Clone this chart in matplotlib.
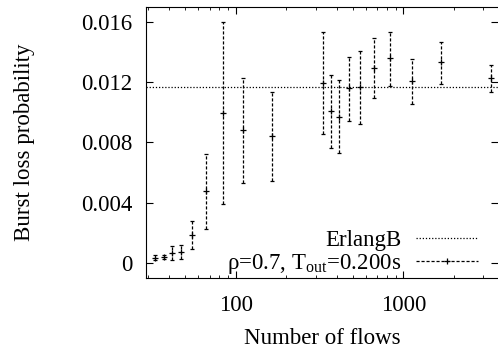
import matplotlib
matplotlib.use("Agg")
import numpy as np
import matplotlib.pyplot as plt
from matplotlib.lines import Line2D

config = {
    "font.family": ['Liberation Serif', 'DejaVu Serif'],
    "font.size": 16.5,
    "mathtext.fontset": 'custom',
    "mathtext.rm": 'Liberation Serif',
    "axes.unicode_minus": False,
}
plt.rcParams.update(config)

flows = [33, 37.3, 41.5, 47.2, 55.1, 66.3, 83.6, 111, 166, 330, 369, 415,
         476, 552, 669, 834, 1121, 1675, 3337]
loss = [0.00035, 0.0004, 0.00068, 0.00073, 0.00186, 0.00475, 0.00999, 0.00884,
        0.00842, 0.01194, 0.01006, 0.00972, 0.01161, 0.0117, 0.01295, 0.01362,
        0.01207, 0.01333, 0.01227]
loss_lo = [0.0002, 0.00025, 0.00017, 0.00025, 0.00095, 0.00228, 0.00393, 0.00533,
           0.00546, 0.00853, 0.00765, 0.0073, 0.00944, 0.00922, 0.01098, 0.01176,
           0.01055, 0.01187, 0.01134]
loss_hi = [0.0005, 0.00055, 0.00113, 0.0012, 0.00276, 0.00723, 0.01603, 0.01227,
           0.01134, 0.01536, 0.01245, 0.01216, 0.0137, 0.0141, 0.01493, 0.01536,
           0.01355, 0.0147, 0.01317]
erlang_b = 0.0117

flows = np.array(flows)
loss = np.array(loss)
yerr = [loss - np.array(loss_lo), np.array(loss_hi) - loss]

fig = plt.figure(figsize=(4.98, 3.5), dpi=100)
ax = fig.add_axes([0.293, 0.206, 0.707, 0.774])

ax.axhline(erlang_b, color='black', ls=(0, (1, 1.5)), lw=0.9)
eb = ax.errorbar(flows, loss, yerr=yerr, fmt='none', ecolor='black',
                 elinewidth=0.9, capsize=1.5, capthick=0.9)
eb[2][0].set_linestyle((0, (2.5, 1.5)))
ax.plot(flows, loss, ls='none', marker='+', color='black', ms=5, mew=0.9)

ax.set_xscale('log')
ax.set_xlim(29.2, 3670)
ax.set_ylim(-0.001, 0.017)
ax.set_yticks([0, 0.004, 0.008, 0.012, 0.016])
ax.set_yticklabels(['0', '0.004', '0.008', '0.012', '0.016'])
ax.set_xticks([100, 1000])
ax.set_xticklabels(['100', '1000'])
ax.tick_params(which='both', direction='in', top=True, right=True)
ax.tick_params(which='major', length=5)
ax.tick_params(axis='y', pad=10)
ax.tick_params(axis='x', pad=12)
ax.tick_params(which='minor', length=2.5)
ax.spines['right'].set_visible(False)

ax.set_xlabel("Number of flows", labelpad=9)
ax.set_ylabel("Burst loss probability", labelpad=33)

handles = [Line2D([], [], color='black', ls=(0, (1, 1.5)), lw=0.9),
           Line2D([], [], color='black', ls=(0, (2.5, 1.5)), lw=0.9,
                  marker='+', ms=5, mew=0.9)]
labels = ["ErlangB", r"ρ=0.7, T$_\mathregular{out}$=0.200s"]
ax.legend(handles, labels, loc='lower right', bbox_to_anchor=(0.95, 0.0),
          frameon=False, markerfirst=False, numpoints=1, handlelength=2.7,
          labelspacing=0.02, handletextpad=0.65, borderaxespad=0.0,
          borderpad=0.1)

fig.savefig("out.png", dpi=100)
